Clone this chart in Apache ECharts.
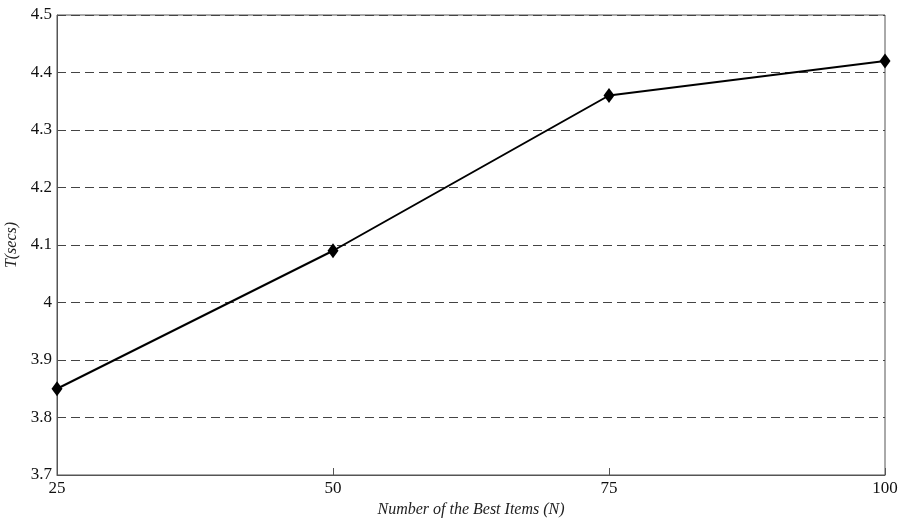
<!DOCTYPE html>
<html><head><meta charset="utf-8">
<script src="https://cdn.jsdelivr.net/npm/echarts@6/dist/echarts.min.js"></script>
<style>html,body{margin:0;padding:0;background:#fff}#c{width:899px;height:522px}</style>
</head><body><div id="c"></div>
<script>
const xValues = [25, 50, 75, 100];
const tValues = [3.85, 4.09, 4.36, 4.42];
const xName = 'Number of the Best Items (N)';
const yName = 'T(secs)';
const chart = echarts.init(document.getElementById('c'));
const font = '"Liberation Serif", "Times New Roman", serif';
chart.setOption({
  animation: false,
  grid: {left: 57, right: 14, top: 15, bottom: 47, show: true, borderColor: '#555', borderWidth: 1,
         containLabel: false, outerBoundsMode: 'none'},
  xAxis: {
    type: 'value', min: 25, max: 100, interval: 25,
    name: xName, nameLocation: 'middle', nameGap: 27,
    nameTextStyle: {fontFamily: font, fontStyle: 'italic', fontSize: 16, color: '#222'},
    axisLine: {show: true, lineStyle: {color: '#555'}},
    axisTick: {show: true, inside: true, length: 7, lineStyle: {color: '#555'}},
    axisLabel: {fontFamily: font, fontSize: 17, color: '#111', margin: 5},
    splitLine: {show: false}
  },
  yAxis: {
    type: 'value', min: 3.7, max: 4.5, interval: 0.1,
    name: yName, nameLocation: 'middle', nameGap: 34,
    nameTextStyle: {fontFamily: font, fontStyle: 'italic', fontSize: 16, color: '#222'},
    axisLine: {show: true, lineStyle: {color: '#555'}},
    axisTick: {show: false},
    axisLabel: {fontFamily: font, fontSize: 17, color: '#111', margin: 5,
      formatter: v => (Math.round(v*10)/10).toString()},
    splitLine: {show: true, lineStyle: {color: '#444', type: [9, 5], width: 1}}
  },
  series: [{
    type: 'line',
    data: xValues.map((x, i) => [x, tValues[i]]),
    lineStyle: {color: '#000', width: 2},
    itemStyle: {color: '#000'},
    symbol: 'diamond', symbolSize: [11, 15],
    showSymbol: true
  }]
});
</script></body></html>
